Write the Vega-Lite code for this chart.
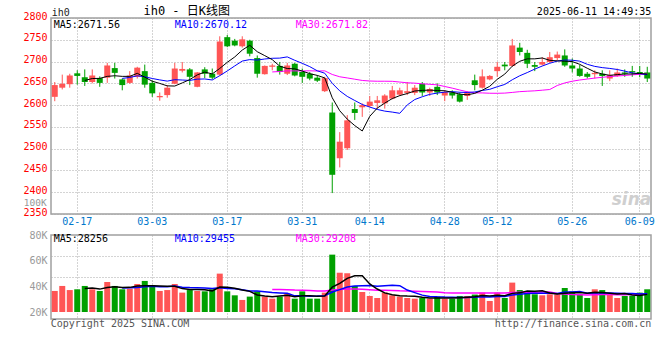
{
  "$schema": "https://vega.github.io/schema/vega-lite/v6.json",
  "padding": {"left": 22, "top": 4, "right": 0, "bottom": 0},
  "background": "white",
  "bounds": "flush",
  "spacing": 21,
  "config": {
    "font": "DejaVu Sans Mono",
    "view": {"stroke": "#a0a0a0", "strokeWidth": 1.5},
    "axis": {"labelFont": "DejaVu Sans Mono", "labelFontSize": 10, "ticks": false, "tickSize": 0, "domain": false, "gridColor": "#a8a8a8", "gridDash": [1, 2], "gridWidth": 1, "title": null, "labelOverlap": false},
    "text": {"font": "DejaVu Sans Mono", "fontSize": 10}
  },
  "datasets": {
    "k": [
      {"d": "02-12", "o": 2619, "h": 2653, "l": 2609, "c": 2646, "v": 36400},
      {"d": "02-13", "o": 2640, "h": 2670, "l": 2636, "c": 2649, "v": 40300},
      {"d": "02-14", "o": 2648, "h": 2672, "l": 2640, "c": 2668, "v": 37100},
      {"d": "02-17", "o": 2673, "h": 2680, "l": 2647, "c": 2667, "v": 37700},
      {"d": "02-18", "o": 2664, "h": 2682, "l": 2644, "c": 2653, "v": 40300},
      {"d": "02-19", "o": 2653, "h": 2682, "l": 2650, "c": 2668, "v": 37700},
      {"d": "02-20", "o": 2662, "h": 2666, "l": 2642, "c": 2651, "v": 36400},
      {"d": "02-21", "o": 2663, "h": 2697, "l": 2651, "c": 2691, "v": 43400},
      {"d": "02-24", "o": 2685, "h": 2697, "l": 2661, "c": 2674, "v": 40300},
      {"d": "02-25", "o": 2659, "h": 2661, "l": 2634, "c": 2646, "v": 37700},
      {"d": "02-26", "o": 2651, "h": 2678, "l": 2649, "c": 2668, "v": 38200},
      {"d": "02-27", "o": 2665, "h": 2688, "l": 2661, "c": 2686, "v": 41800},
      {"d": "02-28", "o": 2678, "h": 2693, "l": 2640, "c": 2647, "v": 44200},
      {"d": "03-03", "o": 2651, "h": 2657, "l": 2619, "c": 2627, "v": 40800},
      {"d": "03-04", "o": 2618, "h": 2629, "l": 2610, "c": 2621, "v": 36400},
      {"d": "03-05", "o": 2623, "h": 2646, "l": 2617, "c": 2640, "v": 37100},
      {"d": "03-06", "o": 2649, "h": 2697, "l": 2648, "c": 2684, "v": 41800},
      {"d": "03-07", "o": 2679, "h": 2699, "l": 2675, "c": 2683, "v": 35100},
      {"d": "03-10", "o": 2682, "h": 2685, "l": 2646, "c": 2665, "v": 37100},
      {"d": "03-11", "o": 2642, "h": 2676, "l": 2641, "c": 2675, "v": 36400},
      {"d": "03-12", "o": 2682, "h": 2687, "l": 2662, "c": 2672, "v": 36100},
      {"d": "03-13", "o": 2672, "h": 2684, "l": 2659, "c": 2663, "v": 37700},
      {"d": "03-14", "o": 2670, "h": 2758, "l": 2668, "c": 2746, "v": 49900},
      {"d": "03-17", "o": 2756, "h": 2761, "l": 2733, "c": 2735, "v": 36100},
      {"d": "03-18", "o": 2748, "h": 2752, "l": 2735, "c": 2737, "v": 33000},
      {"d": "03-19", "o": 2735, "h": 2758, "l": 2732, "c": 2751, "v": 29400},
      {"d": "03-20", "o": 2748, "h": 2750, "l": 2712, "c": 2718, "v": 32000},
      {"d": "03-21", "o": 2708, "h": 2714, "l": 2663, "c": 2672, "v": 36100},
      {"d": "03-24", "o": 2671, "h": 2691, "l": 2670, "c": 2690, "v": 32000},
      {"d": "03-25", "o": 2688, "h": 2695, "l": 2680, "c": 2691, "v": 30400},
      {"d": "03-26", "o": 2690, "h": 2699, "l": 2670, "c": 2676, "v": 32000},
      {"d": "03-27", "o": 2672, "h": 2697, "l": 2669, "c": 2691, "v": 34500},
      {"d": "03-28", "o": 2695, "h": 2697, "l": 2666, "c": 2668, "v": 30400},
      {"d": "03-31", "o": 2676, "h": 2684, "l": 2651, "c": 2665, "v": 36100},
      {"d": "04-01", "o": 2672, "h": 2676, "l": 2657, "c": 2661, "v": 30400},
      {"d": "04-02", "o": 2663, "h": 2669, "l": 2653, "c": 2656, "v": 30400},
      {"d": "04-03", "o": 2632, "h": 2665, "l": 2630, "c": 2662, "v": 35100},
      {"d": "04-07", "o": 2583, "h": 2606, "l": 2398, "c": 2440, "v": 64700},
      {"d": "04-08", "o": 2478, "h": 2538, "l": 2457, "c": 2516, "v": 50600},
      {"d": "04-09", "o": 2501, "h": 2577, "l": 2497, "c": 2565, "v": 50200},
      {"d": "04-10", "o": 2591, "h": 2606, "l": 2566, "c": 2582, "v": 40300},
      {"d": "04-11", "o": 2595, "h": 2604, "l": 2573, "c": 2600, "v": 35600},
      {"d": "04-14", "o": 2598, "h": 2621, "l": 2595, "c": 2608, "v": 32500},
      {"d": "04-15", "o": 2605, "h": 2621, "l": 2592, "c": 2611, "v": 30900},
      {"d": "04-16", "o": 2604, "h": 2625, "l": 2592, "c": 2622, "v": 35100},
      {"d": "04-17", "o": 2615, "h": 2644, "l": 2613, "c": 2634, "v": 33000},
      {"d": "04-18", "o": 2624, "h": 2640, "l": 2621, "c": 2634, "v": 32000},
      {"d": "04-21", "o": 2628, "h": 2653, "l": 2623, "c": 2632, "v": 30900},
      {"d": "04-22", "o": 2628, "h": 2646, "l": 2623, "c": 2640, "v": 30400},
      {"d": "04-23", "o": 2649, "h": 2653, "l": 2621, "c": 2629, "v": 30900},
      {"d": "04-24", "o": 2629, "h": 2640, "l": 2621, "c": 2637, "v": 30400},
      {"d": "04-25", "o": 2642, "h": 2650, "l": 2623, "c": 2629, "v": 32000},
      {"d": "04-28", "o": 2622, "h": 2634, "l": 2609, "c": 2630, "v": 30400},
      {"d": "04-29", "o": 2629, "h": 2634, "l": 2615, "c": 2622, "v": 30400},
      {"d": "04-30", "o": 2625, "h": 2629, "l": 2606, "c": 2608, "v": 32500},
      {"d": "05-06", "o": 2621, "h": 2632, "l": 2612, "c": 2629, "v": 32500},
      {"d": "05-07", "o": 2657, "h": 2670, "l": 2634, "c": 2646, "v": 33600},
      {"d": "05-08", "o": 2640, "h": 2682, "l": 2638, "c": 2666, "v": 35100},
      {"d": "05-09", "o": 2659, "h": 2669, "l": 2657, "c": 2667, "v": 28600},
      {"d": "05-12", "o": 2678, "h": 2699, "l": 2665, "c": 2688, "v": 35100},
      {"d": "05-13", "o": 2693, "h": 2699, "l": 2680, "c": 2689, "v": 30900},
      {"d": "05-14", "o": 2690, "h": 2752, "l": 2688, "c": 2737, "v": 42900},
      {"d": "05-15", "o": 2732, "h": 2743, "l": 2714, "c": 2722, "v": 37100},
      {"d": "05-16", "o": 2720, "h": 2727, "l": 2685, "c": 2695, "v": 36100},
      {"d": "05-19", "o": 2692, "h": 2699, "l": 2678, "c": 2688, "v": 33800},
      {"d": "05-20", "o": 2693, "h": 2710, "l": 2691, "c": 2699, "v": 33000},
      {"d": "05-21", "o": 2699, "h": 2722, "l": 2697, "c": 2710, "v": 33800},
      {"d": "05-22", "o": 2708, "h": 2723, "l": 2703, "c": 2716, "v": 33800},
      {"d": "05-23", "o": 2714, "h": 2728, "l": 2688, "c": 2691, "v": 38700},
      {"d": "05-26", "o": 2691, "h": 2707, "l": 2675, "c": 2684, "v": 36100},
      {"d": "05-27", "o": 2684, "h": 2692, "l": 2665, "c": 2667, "v": 33800},
      {"d": "05-28", "o": 2672, "h": 2676, "l": 2661, "c": 2665, "v": 30900},
      {"d": "05-29", "o": 2671, "h": 2680, "l": 2661, "c": 2674, "v": 37700},
      {"d": "05-30", "o": 2672, "h": 2680, "l": 2644, "c": 2667, "v": 37100},
      {"d": "06-03", "o": 2661, "h": 2680, "l": 2655, "c": 2669, "v": 33600},
      {"d": "06-04", "o": 2667, "h": 2684, "l": 2665, "c": 2675, "v": 30900},
      {"d": "06-05", "o": 2675, "h": 2682, "l": 2665, "c": 2672, "v": 32500},
      {"d": "06-06", "o": 2678, "h": 2690, "l": 2665, "c": 2675, "v": 32500},
      {"d": "06-09", "o": 2676, "h": 2690, "l": 2664, "c": 2673, "v": 35100},
      {"d": "06-10", "o": 2675, "h": 2688, "l": 2653, "c": 2661, "v": 37700}
    ]
  },
  "vconcat": [
    {
      "width": 600,
      "height": 196,
      "data": {"name": "k"},
      "layer": [
        {
          "mark": {"type": "rule", "strokeWidth": 1},
          "encoding": {
            "x": {"field": "d", "type": "ordinal", "scale": {"type": "band", "paddingInner": 0.2, "paddingOuter": 0.1},
                  "axis": {"values": ["02-17", "03-03", "03-17", "03-31", "04-14", "04-28", "05-12", "05-26", "06-09"], "labelColor": "#0077cc", "labelPadding": 2, "labelAngle": 0, "grid": true, "bandPosition": 0.5, "labelBaseline": "top", "labelOverlap": false}},
            "y": {"field": "l", "type": "quantitative", "scale": {"domain": [2350, 2800], "zero": false, "nice": false},
                  "axis": {"values": [2350, 2400, 2450, 2500, 2550, 2600, 2650, 2700, 2750, 2800], "tickCount": 20, "format": "d", "labelColor": "#ff0000", "labelPadding": 4, "grid": true, "labelBaseline": "middle", "labelOffset": -2, "labelOverlap": false, "labelBound": false, "labelSeparation": 0}},
            "y2": {"field": "h"},
            "color": {"condition": {"test": "datum.c >= datum.o", "value": "#ff5555"}, "value": "#00a000"}
          }
        },
        {
          "mark": {"type": "bar"},
          "encoding": {
            "x": {"field": "d", "type": "ordinal"},
            "y": {"field": "o", "type": "quantitative"},
            "y2": {"field": "c"},
            "color": {"condition": {"test": "datum.c >= datum.o", "value": "#ff5555"}, "value": "#00a000"}
          }
        },
        {
          "transform": [
            {"window": [{"op": "mean", "field": "c", "as": "m"}, {"op": "count", "as": "n"}], "frame": [-29, 0], "sort": [{"field": "d"}]},
            {"filter": "datum.n == 30"}
          ],
          "mark": {"type": "line", "color": "#ff00ff", "strokeWidth": 1},
          "encoding": {"x": {"field": "d", "type": "ordinal"}, "y": {"field": "m", "type": "quantitative"}}
        },
        {
          "transform": [
            {"window": [{"op": "mean", "field": "c", "as": "m"}, {"op": "count", "as": "n"}], "frame": [-9, 0], "sort": [{"field": "d"}]},
            {"filter": "datum.n == 10"}
          ],
          "mark": {"type": "line", "color": "#0000ff", "strokeWidth": 1},
          "encoding": {"x": {"field": "d", "type": "ordinal"}, "y": {"field": "m", "type": "quantitative"}}
        },
        {
          "transform": [
            {"window": [{"op": "mean", "field": "c", "as": "m"}, {"op": "count", "as": "n"}], "frame": [-4, 0], "sort": [{"field": "d"}]},
            {"filter": "datum.n == 5"}
          ],
          "mark": {"type": "line", "color": "#000000", "strokeWidth": 1},
          "encoding": {"x": {"field": "d", "type": "ordinal"}, "y": {"field": "m", "type": "quantitative"}}
        },
        {
          "data": {"values": [{"t": "MA5:2671.56"}]},
          "mark": {"type": "text", "align": "left", "baseline": "middle", "color": "#000000", "dx": -1},
          "encoding": {"x": {"datum": "02-12", "type": "ordinal"}, "y": {"datum": 2785, "type": "quantitative"}, "text": {"field": "t"}}
        },
        {
          "data": {"values": [{"t": "MA10:2670.12"}]},
          "mark": {"type": "text", "align": "left", "baseline": "middle", "color": "#0000ff"},
          "encoding": {"x": {"datum": "03-06", "type": "ordinal"}, "y": {"datum": 2785, "type": "quantitative"}, "text": {"field": "t"}}
        },
        {
          "data": {"values": [{"t": "MA30:2671.82"}]},
          "mark": {"type": "text", "align": "left", "baseline": "middle", "color": "#ff00ff", "dx": 1},
          "encoding": {"x": {"datum": "03-28", "type": "ordinal"}, "y": {"datum": 2785, "type": "quantitative"}, "text": {"field": "t"}}
        },
        {
          "data": {"values": [{"t": "ih0"}]},
          "mark": {"type": "text", "align": "left", "baseline": "middle", "color": "#222222", "dx": -3},
          "encoding": {"x": {"datum": "02-12", "type": "ordinal"}, "y": {"datum": 2811, "type": "quantitative"}, "text": {"field": "t"}}
        },
        {
          "data": {"values": [{"t": "ih0 - 日K线图"}]},
          "mark": {"type": "text", "align": "center", "baseline": "middle", "color": "#000000", "fontSize": 12, "font": "DejaVu Sans Mono, Noto Sans CJK SC", "dx": -3},
          "encoding": {"x": {"datum": "03-10", "type": "ordinal"}, "y": {"datum": 2815, "type": "quantitative"}, "text": {"field": "t"}}
        },
        {
          "data": {"values": [{"t": "2025-06-11 14:49:35"}]},
          "mark": {"type": "text", "align": "right", "baseline": "middle", "color": "#000000", "dx": 4},
          "encoding": {"x": {"datum": "06-10", "type": "ordinal"}, "y": {"datum": 2813, "type": "quantitative"}, "text": {"field": "t"}}
        },
        {
          "data": {"values": [{"t": "100K"}]},
          "mark": {"type": "text", "align": "right", "baseline": "middle", "color": "#999999", "dx": -8, "fontSize": 9.5},
          "encoding": {"x": {"datum": "02-12", "type": "ordinal"}, "y": {"datum": 2376, "type": "quantitative"}, "text": {"field": "t"}}
        },
        {
          "data": {"values": [{"t": "sina"}]},
          "mark": {"type": "text", "align": "right", "baseline": "middle", "color": "#cfcfcf", "fontSize": 17, "fontStyle": "italic", "fontWeight": "bold", "font": "DejaVu Sans", "dx": 4},
          "encoding": {"x": {"datum": "06-10", "type": "ordinal"}, "y": {"datum": 2381, "type": "quantitative"}, "text": {"field": "t"}}
        }
      ]
    },
    {
      "width": 600,
      "height": 84,
      "data": {"name": "k"},
      "resolve": {"axis": {"y": "independent"}},
      "layer": [
        {
          "mark": {"type": "bar"},
          "encoding": {
            "x": {"field": "d", "type": "ordinal", "scale": {"type": "band", "paddingInner": 0.2, "paddingOuter": 0.1},
                  "axis": {"values": ["02-17", "03-03", "03-17", "03-31", "04-14", "04-28", "05-12", "05-26", "06-09"], "labels": false, "grid": true, "bandPosition": 0.5}},
            "y": {"field": "v", "type": "quantitative", "scale": {"domain": [14550, 80000], "zero": false, "nice": false},
                  "axis": {"values": [20000, 40000, 60000, 80000], "tickCount": 10, "labelExpr": "datum.value / 1000 + 'K'", "labelColor": "#999999", "labelPadding": 4, "grid": false, "labelBaseline": "middle", "labelOverlap": false}},
            "y2": {"datum": 20000},
            "color": {"condition": {"test": "datum.c >= datum.o", "value": "#ff5555"}, "value": "#00a000"}
          }
        },
        {
          "transform": [
            {"window": [{"op": "mean", "field": "v", "as": "m"}, {"op": "count", "as": "n"}], "frame": [-29, 0], "sort": [{"field": "d"}]},
            {"filter": "datum.n == 30"}
          ],
          "mark": {"type": "line", "color": "#ff00ff", "strokeWidth": 1.5},
          "encoding": {"x": {"field": "d", "type": "ordinal"},
                       "y": {"field": "m", "type": "quantitative", "axis": {"orient": "left", "values": [47270, 63640], "tickCount": 10, "labels": false, "grid": true}}}
        },
        {
          "transform": [
            {"window": [{"op": "mean", "field": "v", "as": "m"}, {"op": "count", "as": "n"}], "frame": [-9, 0], "sort": [{"field": "d"}]},
            {"filter": "datum.n == 10"}
          ],
          "mark": {"type": "line", "color": "#0000ff", "strokeWidth": 1.5},
          "encoding": {"x": {"field": "d", "type": "ordinal"}, "y": {"field": "m", "type": "quantitative", "axis": null}}
        },
        {
          "transform": [
            {"window": [{"op": "mean", "field": "v", "as": "m"}, {"op": "count", "as": "n"}], "frame": [-4, 0], "sort": [{"field": "d"}]},
            {"filter": "datum.n == 5"}
          ],
          "mark": {"type": "line", "color": "#000000", "strokeWidth": 1.5},
          "encoding": {"x": {"field": "d", "type": "ordinal"}, "y": {"field": "m", "type": "quantitative", "axis": null}}
        },
        {
          "data": {"values": [{"t": "MA5:28256"}]},
          "mark": {"type": "text", "align": "left", "baseline": "middle", "color": "#000000", "dx": -1},
          "encoding": {"x": {"datum": "02-12", "type": "ordinal"}, "y": {"datum": 76500, "type": "quantitative", "axis": null}, "text": {"field": "t"}}
        },
        {
          "data": {"values": [{"t": "MA10:29455"}]},
          "mark": {"type": "text", "align": "left", "baseline": "middle", "color": "#0000ff"},
          "encoding": {"x": {"datum": "03-06", "type": "ordinal"}, "y": {"datum": 76500, "type": "quantitative", "axis": null}, "text": {"field": "t"}}
        },
        {
          "data": {"values": [{"t": "MA30:29208"}]},
          "mark": {"type": "text", "align": "left", "baseline": "middle", "color": "#ff00ff", "dx": 1},
          "encoding": {"x": {"datum": "03-28", "type": "ordinal"}, "y": {"datum": 76500, "type": "quantitative", "axis": null}, "text": {"field": "t"}}
        },
        {
          "data": {"values": [{"t": "Copyright 2025 SINA.COM"}]},
          "mark": {"type": "text", "align": "left", "baseline": "middle", "color": "#555555", "dx": -4},
          "encoding": {"x": {"datum": "02-12", "type": "ordinal"}, "y": {"datum": 10400, "type": "quantitative", "axis": null}, "text": {"field": "t"}}
        },
        {
          "data": {"values": [{"t": "http://finance.sina.com.cn"}]},
          "mark": {"type": "text", "align": "right", "baseline": "middle", "color": "#555555", "dx": 4},
          "encoding": {"x": {"datum": "06-10", "type": "ordinal"}, "y": {"datum": 10400, "type": "quantitative", "axis": null}, "text": {"field": "t"}}
        }
      ]
    }
  ]
}
